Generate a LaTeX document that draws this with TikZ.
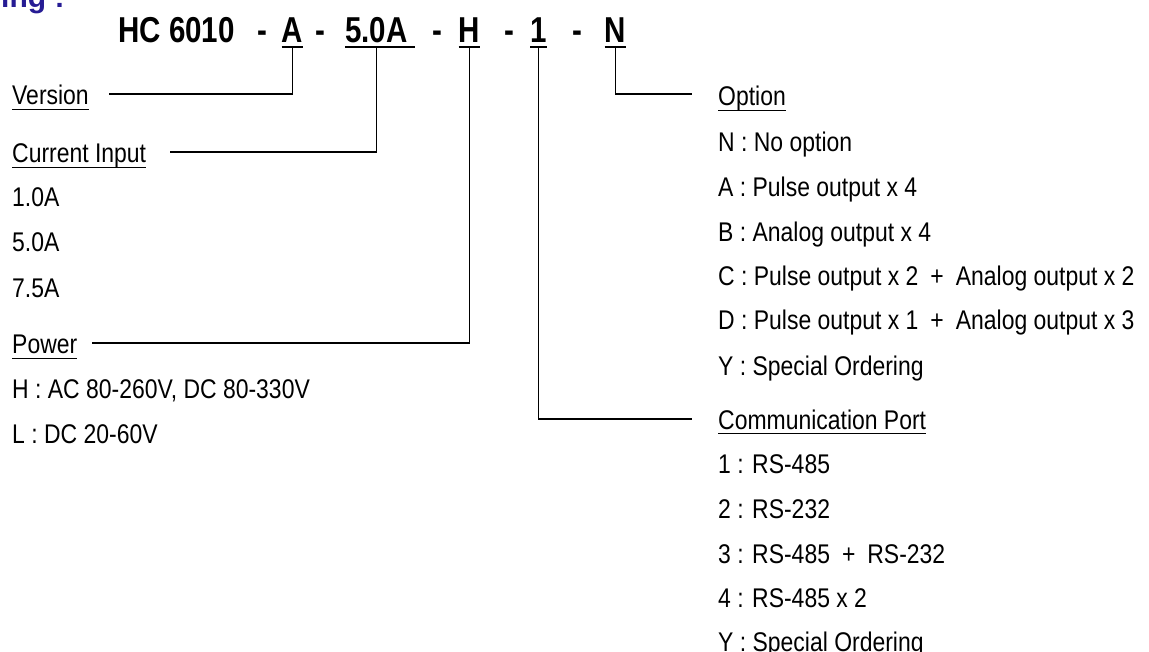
\documentclass[tikz,border=0pt]{standalone}
\usepackage{fontspec}
\setmainfont{Liberation Sans}[FakeStretch=0.85]
\newfontfamily\titlefont{Liberation Sans}[FakeStretch=0.82]
\newfontfamily\headfont{Liberation Sans}
\definecolor{headblue}{RGB}{38,28,148}
\newcommand{\plussep}{\hspace{12pt}+\hspace{12pt}}
\tikzset{
  lbl/.style={anchor=base west, inner sep=0pt, font=\fontsize{27}{32}\selectfont},
  code/.style={anchor=base, inner sep=0pt, font=\titlefont\bfseries\fontsize{36}{40}\selectfont},
  conn/.style={line width=1.3pt, black},
  uline/.style={line width=1.2pt, black},
}
\begin{document}
\begin{tikzpicture}[x=1pt,y=-1pt]
\useasboundingbox (0,0) rectangle (1149,652);
% cropped heading
\node[anchor=base west, inner sep=0pt, text=headblue, font=\headfont\bfseries\fontsize{30}{34}\selectfont] (head) at (1,8) {ing :};
% model code
\node[code, anchor=base west] (hc) at (118,43) {HC 6010};
\node[code] (d1) at (262,43) {-};
\node[code] (cA) at (292.5,43) {A};
\node[code] (d2) at (320,43) {-};
\node[code] (c5) at (376.5,43) {5.0A};
\node[code] (d3) at (437.5,43) {-};
\node[code] (cH) at (469.5,43) {H};
\node[code] (d4) at (509,43) {-};
\node[code] (c1) at (538.5,43) {1};
\node[code] (d5) at (577.5,43) {-};
\node[code] (cN) at (615.5,43) {N};
\foreach \n in {cA,cH,c1,cN}
  \draw[uline] ([yshift=-4pt]\n.base west) -- ([yshift=-4pt]\n.base east);
\draw[uline] ([yshift=-4pt]c5.base west) -- ([xshift=7pt,yshift=-4pt]c5.base east);
% left column
\node[lbl] (ver) at (12,105) {Version};
\node[lbl] (cur) at (12,163) {Current Input\ };
\node[lbl] (i1) at (12,207) {1.0A};
\node[lbl] (i2) at (12,252) {5.0A};
\node[lbl] (i3) at (12,298) {7.5A};
\node[lbl] (pow) at (12,354) {Power};
\node[lbl] (p1) at (12,399) {H : AC 80-260V, DC 80-330V};
\node[lbl] (p2) at (12,443) {L : DC 20-60V};
% right column
\node[lbl] (opt) at (718,106) {Option};
\node[lbl] (o1) at (718,152) {N : No option};
\node[lbl] (o2) at (718,197) {A : Pulse output x 4};
\node[lbl] (o3) at (718,242) {B : Analog output x 4};
\node[lbl] (o4) at (718,286) {C : Pulse output x 2\plussep Analog output x 2};
\node[lbl] (o5) at (718,330) {D : Pulse output x 1\plussep Analog output x 3};
\node[lbl] (o6) at (718,375) {Y : Special Ordering};
\node[lbl] (com) at (718,429) {Communication Port};
\node[lbl] (m1) at (718,473) {1 : RS-485};
\node[lbl] (m2) at (718,518) {2 : RS-232};
\node[lbl] (m3) at (718,563) {3 : RS-485\plussep RS-232};
\node[lbl] (m4) at (718,607) {4 : RS-485 x 2};
\node[lbl] (m5) at (718,651) {Y : Special Ordering};
\foreach \n in {ver,cur,pow,opt,com}
  \draw[uline] ([yshift=-4.5pt]\n.base west) -- ([yshift=-4.5pt]\n.base east);
% connector ends
\coordinate (vE) at (109,94);
\coordinate (cE) at (170,152);
\coordinate (pE) at (92,343);
\coordinate (oE) at (692,94);
\coordinate (mE) at (692,419);
% connectors
\draw[conn] ([yshift=-4pt]cA.base) |- (vE);
\draw[conn] ([yshift=-4pt]c5.base) |- (cE);
\draw[conn] ([yshift=-4pt]cH.base) |- (pE);
\draw[conn] ([yshift=-4pt]c1.base) |- (mE);
\draw[conn] ([yshift=-4pt]cN.base) |- (oE);
\end{tikzpicture}
\end{document}
